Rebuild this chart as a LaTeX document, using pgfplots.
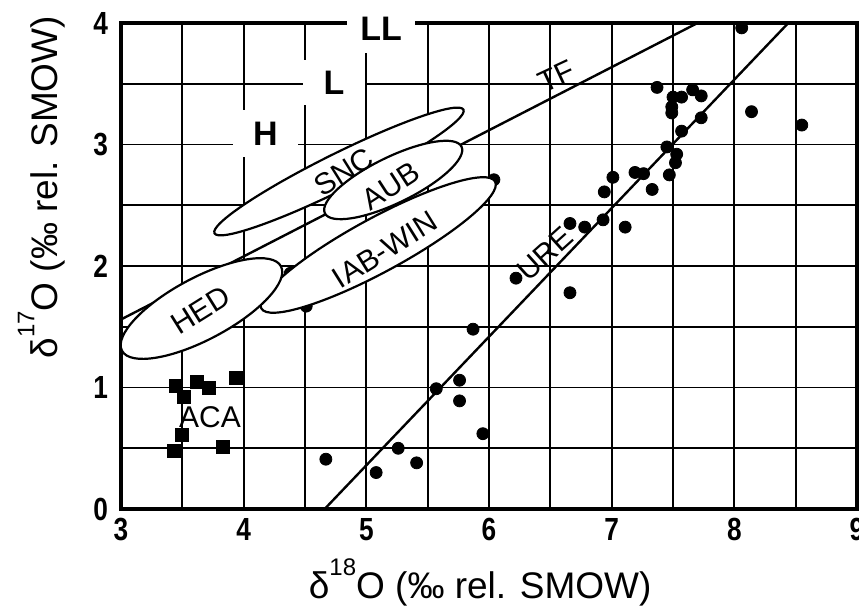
\documentclass[border=0pt]{standalone}
\usepackage{pgfplots}
\pgfplotsset{compat=1.18}
\usepackage{fontspec}
\setmainfont{Liberation Sans}
\usetikzlibrary{shapes.geometric}
\newcommand{\isosup}[1]{\raisebox{0.62em}{\fontsize{12}{12}\selectfont #1}}

\begin{document}
\begin{tikzpicture}
\begin{axis}[
  scale only axis, width=368pt, height=243pt,
  xmin=3, xmax=9, ymin=0, ymax=4,
  xtick={3,...,9}, ytick={0,...,4},
  minor xtick={3.5,4.5,5.5,6.5,7.5,8.5},
  minor ytick={0.5,1.5,2.5,3.5},
  grid=both,
  major grid style={black, line width=0.85pt},
  minor grid style={black, line width=0.85pt},
  major tick length=0pt, minor tick length=0pt,
  axis line style={line width=1.6pt},
  tick label style={font=\bfseries\fontsize{16}{16}\selectfont},
  xticklabel={\scalebox{0.82}[1]{\pgfmathprintnumber{\tick}}},
  yticklabel={\scalebox{0.82}[1]{\pgfmathprintnumber{\tick}}},
  yticklabel style={xshift=-3pt},
  xticklabel style={yshift=-1pt},
  /pgf/number format/assume math mode=true,
  xlabel={δ\isosup{18}O (‰ rel. SMOW)},
  ylabel={δ\isosup{17}O (‰ rel. SMOW)},
  label style={font=\fontsize{18.5}{22}\selectfont},
  xlabel style={at={(rel axis cs:0.488,-0.152)}, anchor=center},
  ylabel style={at={(rel axis cs:-0.108,0.662)}, anchor=center},
  clip=false,
  clip marker paths=true,
]
\coordinate (sw) at (rel axis cs:0,0);
\coordinate (ne) at (rel axis cs:1,1);

% terrestrial fractionation line and ureilite line
\addplot[black, line width=1.2pt] coordinates {(3,1.56) (7.70,4.0)};
\addplot[black, line width=1.2pt] coordinates {(4.66,0) (8.44,4.0)};

% points partly hidden behind fields
\addplot[only marks, mark=*, mark size=3pt, black] coordinates {(4.38,1.94) (4.51,1.67) (6.04,2.71)};

% fields
\node[draw, ellipse, fill=white, line width=1.1pt, inner sep=0pt, minimum width=139pt, minimum height=18pt, rotate=26.4] at (axis cs:4.777,2.778) {};
\node[draw, ellipse, fill=white, line width=1.1pt, inner sep=0pt, minimum width=76pt, minimum height=23pt, rotate=26] at (axis cs:5.219,2.708) {};
\node[draw, ellipse, fill=white, line width=1.1pt, inner sep=0pt, minimum width=133pt, minimum height=27pt, rotate=28.5] at (axis cs:5.097,2.173) {};
\node[draw, ellipse, fill=white, line width=1.1pt, inner sep=0pt, minimum width=90pt, minimum height=31pt, rotate=28] at (axis cs:3.656,1.65) {};

% ureilites
\addplot[only marks, mark=*, mark size=3pt, black] table {
8.06 3.96
7.37 3.47
7.50 3.39
7.57 3.39
7.66 3.45
7.73 3.40
7.49 3.31
7.49 3.26
8.14 3.27
8.55 3.16
7.73 3.22
7.57 3.11
7.45 2.98
7.53 2.92
7.52 2.85
7.47 2.75
7.19 2.77
7.26 2.76
7.01 2.73
6.94 2.61
7.33 2.63
6.66 2.35
6.78 2.32
6.93 2.38
7.11 2.32
6.22 1.90
6.66 1.78
5.87 1.48
5.57 0.99
5.76 1.06
5.76 0.89
5.95 0.62
5.26 0.50
5.41 0.38
5.08 0.30
4.67 0.41
};

% acapulcoites
\addplot[only marks, mark=square*, mark size=3.25pt, black] table {
3.45 1.01
3.62 1.05
3.72 1.00
3.94 1.08
3.51 0.92
3.50 0.61
3.43 0.48
3.83 0.51
};

% labels
\begin{scope}[font=\fontsize{15}{16}\selectfont]
\node[rotate=32] at (axis cs:3.650,1.638) {HED};
\node[rotate=32] at (axis cs:4.818,2.776) {SNC};
\node[rotate=33] at (axis cs:5.198,2.658) {AUB};
\node[rotate=32] at (axis cs:5.152,2.137) {IAB-WIN};
\node[rotate=25] at (axis cs:6.55,3.56) {TF};
\node[rotate=42] at (axis cs:6.455,2.10) {URE};
\node at (axis cs:3.725,0.757) {ACA};
\end{scope}
\begin{scope}[font=\bfseries\fontsize{17}{18}\selectfont]
\node[fill=white, inner sep=0pt, minimum width=32.5pt, minimum height=23.5pt] at (axis cs:4.178,3.091) {H};
\node[fill=white, inner sep=0pt, minimum width=31pt, minimum height=22.5pt] at (axis cs:4.736,3.510) {L};
\node[fill=white, inner sep=0pt, minimum width=34pt, minimum height=24pt] at (axis cs:5.120,3.951) {LL};
\end{scope}
\end{axis}
\pgfresetboundingbox
\path ([shift={(-60.5pt,-48.5pt)}]sw) rectangle ([shift={(1pt,11.5pt)}]ne);
\end{tikzpicture}
\end{document}
